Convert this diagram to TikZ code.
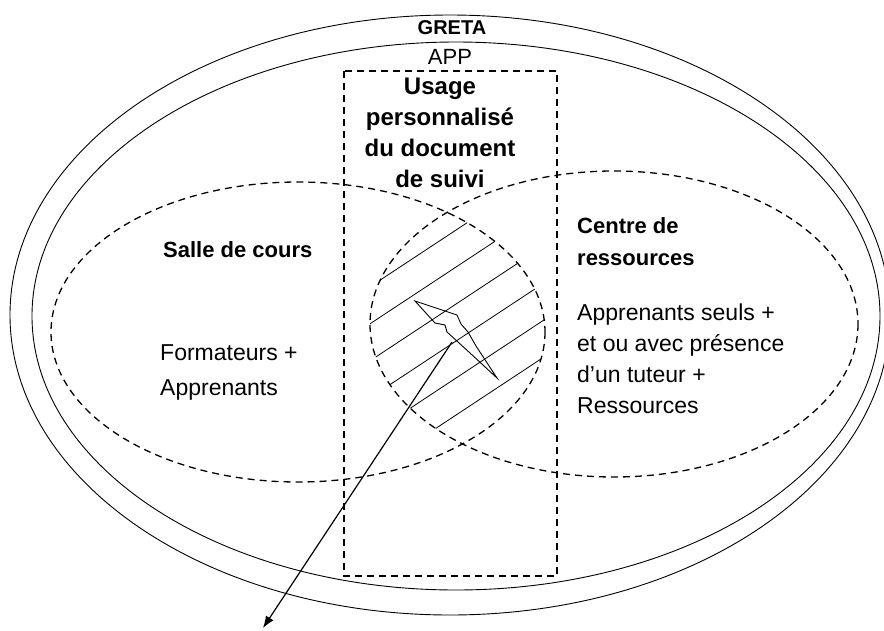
\documentclass[tikz,border=0pt]{standalone}
\usepackage{fontspec}
\setmainfont{Liberation Sans}
\usetikzlibrary{arrows.meta}

\begin{document}
\begin{tikzpicture}[x=1pt,y=-1pt,
	ring/.style={line width=0.9pt},
	zone/.style={dash pattern=on 7pt off 5pt,line width=1.3pt},
	head/.style={font=\bfseries\fontsize{22}{32}\selectfont,align=left,anchor=base west,inner sep=0pt},
	body/.style={font=\fontsize{23}{35}\selectfont,align=left,anchor=base west,inner sep=0pt}]
	\useasboundingbox (0,0) rectangle (884,630);
	\clip (0,0) rectangle (884,630);
	% GRETA / APP
	\draw[ring] (450,315) ellipse [x radius=440,y radius=300];
	\draw[ring] (456,316) ellipse [x radius=424,y radius=274];
	% hatched common part
	\begin{scope}
		\clip (298,332) ellipse [x radius=247,y radius=150];
		\clip (614,324) ellipse [x radius=244,y radius=153];
		\foreach \c in {230,267,...,452}
			\draw[line width=0.8pt] (340,\c+76.6) -- (580,\c-81.8);
	\end{scope}
	\draw[zone] (298,332) ellipse [x radius=247,y radius=150];
	\draw[zone] (614,324) ellipse [x radius=244,y radius=153];
	\draw[zone] (344,71) rectangle (557,576);
	% lightning
	\draw[line width=0.9pt] (415,301) -- (457,315) -- (461,324) -- (468,332) -- (476,346) -- (497,378) -- (470,353) -- (447,332) -- (445,325) -- (435,323) -- cycle;
	\coordinate (bolt) at (452,342);
	\coordinate (target) at (263,628);
	\draw[line width=1.2pt,-{Latex[length=12pt,width=9pt]}] (bolt) -- (target);
	% labels (multi-line nodes sit on their last baseline)
	\node[font=\bfseries\fontsize{20}{20}\selectfont] (greta) at (452,28) {GRETA};
	\node[font=\fontsize{22}{22}\selectfont] (app) at (450,57) {APP};
	\node[font=\bfseries\fontsize{24}{31}\selectfont,align=center,anchor=base,inner sep=0pt] (usage) at (440,187) {Usage\\personnalisé\\du document\\de suivi};
	\node[head] (salle) at (163,257) {Salle de cours};
	\node[body] (formateurs) at (160,395) {Formateurs +\\Apprenants};
	\node[head] (centre) at (577,265) {Centre de\\ressources};
	\node[body,font=\fontsize{23}{31}\selectfont] (apprenants) at (577,413) {Apprenants seuls +\\et ou avec présence\\d’un tuteur +\\Ressources};
\end{tikzpicture}
\end{document}
